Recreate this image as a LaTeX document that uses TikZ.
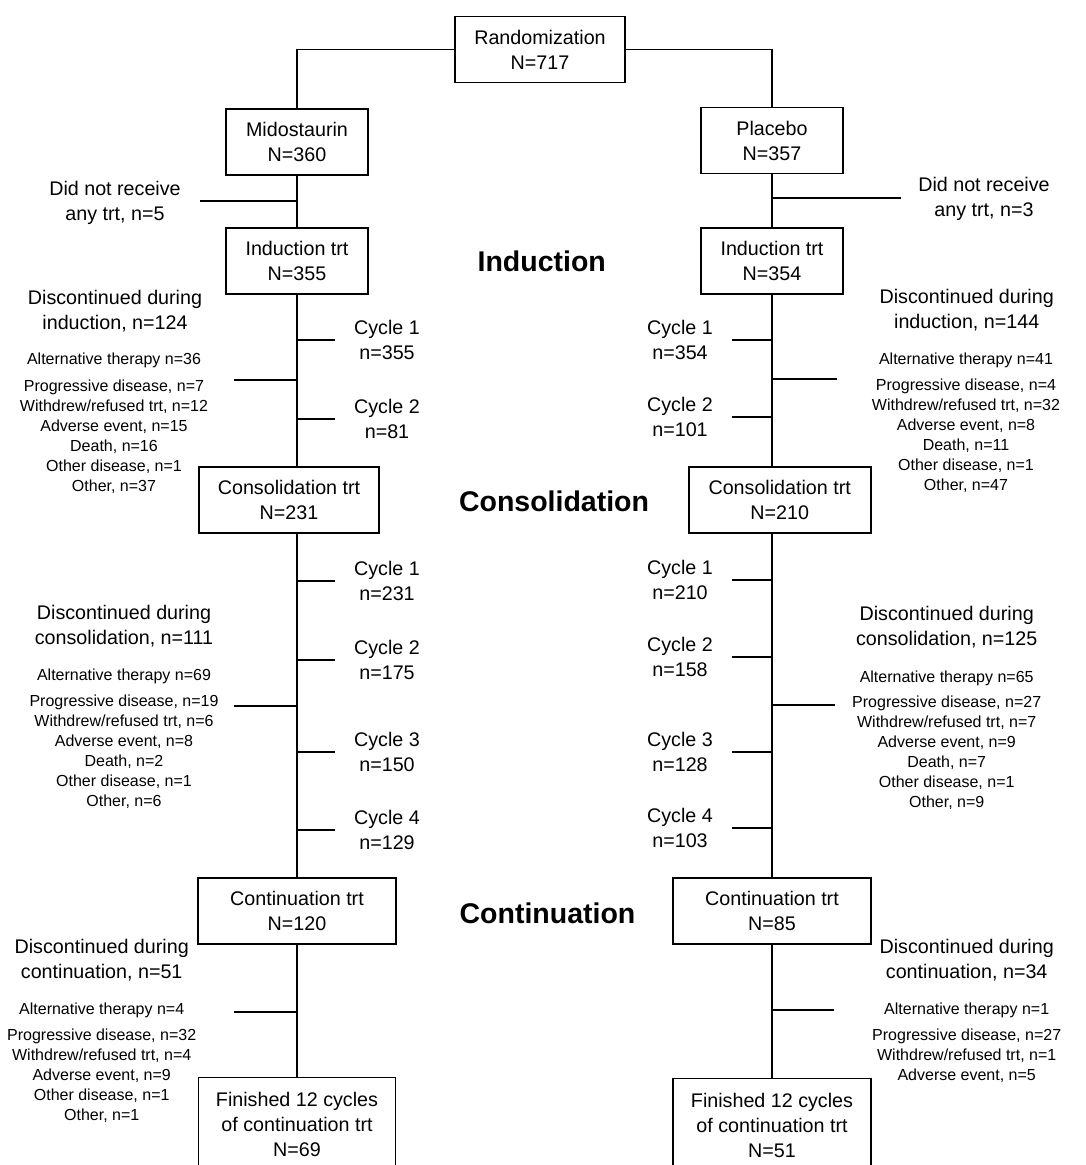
\documentclass[tikz,border=0pt]{standalone}
\usepackage{fontspec}
\setmainfont{Liberation Sans}
\begin{document}
\begin{tikzpicture}[
        x=1pt, y=-1pt,
        flow/.style={line width=1.8pt},
        stagebox/.style={draw, line width=1.8pt, align=center, inner sep=0pt,
          minimum width=142pt, minimum height=66pt,
          font=\fontsize{19.7}{25}\selectfont},
        cyclelbl/.style={align=center, inner sep=0pt, font=\fontsize{19.7}{25}\selectfont},
        headlbl/.style={align=center, inner sep=0pt, font=\fontsize{19.7}{25}\selectfont},
        reasonlbl/.style={anchor=base, inner sep=0pt, font=\fontsize{16}{20}\selectfont},
        phaselbl/.style={inner sep=0pt, font=\fontsize{28.5}{34}\selectfont\bfseries}
      ]
      \useasboundingbox (0,0) rectangle (1085,1165);
      \clip (0,0) rectangle (1085,1165);

      % boxes
      \node[stagebox, minimum width=170pt] (rand) at (540,49.5) {Randomization\\N=717};
      \node[stagebox] (mido) at (297,142) {Midostaurin\\N=360};
      \node[stagebox] (plac) at (772,140.5) {Placebo\\N=357};
      \node[stagebox] (indL) at (297,261.3) {Induction trt\\N=355};
      \node[stagebox] (indR) at (772,261.3) {Induction trt\\N=354};
      \node[stagebox, minimum width=180pt] (conL) at (289,500.3) {Consolidation trt\\N=231};
      \node[stagebox, minimum width=182pt] (conR) at (779.7,500.3) {Consolidation trt\\N=210};
      \node[stagebox, minimum width=198pt] (cntL) at (297,911.3) {Continuation trt\\N=120};
      \node[stagebox, minimum width=198pt] (cntR) at (772,911.3) {Continuation trt\\N=85};
      \node[stagebox, minimum width=197pt, minimum height=94pt] (finL) at (297,1124.5)
        {Finished 12 cycles\\of continuation trt\\N=69};
      \node[stagebox, minimum width=198pt, minimum height=94pt] (finR) at (772,1125.5)
        {Finished 12 cycles\\of continuation trt\\N=51};

      \node[phaselbl] (phInd) at (541.7,261.7) {Induction};
      \node[phaselbl] (phCon) at (554,501.7) {Consolidation};
      \node[phaselbl] (phCnt) at (547.5,913.3) {Continuation};

      % trunks
      \draw[flow] (rand.west) -| (mido.north);
      \draw[flow] (rand.east) -| (plac.north);
      \draw[flow] (mido.south) -- (indL.north);
      \draw[flow] (plac.south) -- (indR.north);
      \draw[flow] (indL.south) -- (indL.south |- conL.north);
      \draw[flow] (indR.south) -- (indR.south |- conR.north);
      \draw[flow] (conL.south -| cntL.north) -- (cntL.north);
      \draw[flow] (conR.south -| cntR.north) -- (cntR.north);
      \draw[flow] (cntL.south) -- (finL.north);
      \draw[flow] (cntR.south) -- (finR.north);

      % no treatment
      \coordinate (noL) at (200,201);
      \draw[flow] (noL) -- (noL -| mido.south);
      \node[headlbl] (hdNoL) at (115,203) {Did not receive\\any trt, n=5};
      \coordinate (noR) at (901,198);
      \draw[flow] (noR -| plac.south) -- (noR);
      \node[headlbl] (hdNoR) at (984,198.5) {Did not receive\\any trt, n=3};

      % induction
      \foreach \k/\val/\y in {1/355/340, 2/81/419} {
        \coordinate (ciL\k) at (335,\y);
        \draw[flow] (ciL\k -| indL.south) -- (ciL\k);
        \node[cyclelbl] (tciL\k) at (387,\y) {Cycle \k\\n=\val};
      }
      \foreach \k/\val/\y in {1/354/340, 2/101/417.3} {
        \coordinate (ciR\k) at (732.3,\y);
        \draw[flow] (ciR\k) -- (ciR\k -| indR.south);
        \node[cyclelbl] (tciR\k) at (680,\y) {Cycle \k\\n=\val};
      }
      \coordinate (dIL) at (234,380);
      \draw[flow] (dIL) -- (dIL -| indL.south);
      \node[headlbl] (hdIL) at (115,310.7) {Discontinued during\\induction, n=124};
      \foreach \txt/\y [count=\k] in {%
        {Alternative therapy n=36}/364,
        {Progressive disease, n=7}/391,
        {Withdrew/refused trt, n=12}/411,
        {Adverse event, n=15}/431,
        {Death, n=16}/451,
        {Other disease, n=1}/471,
        {Other, n=37}/491%
      }{
        \node[reasonlbl] (rIL\k) at (114,\y) {\txt};
      }
      \coordinate (dIR) at (837,379);
      \draw[flow] (dIR -| indR.south) -- (dIR);
      \node[headlbl] (hdIR) at (966.7,310.3) {Discontinued during\\induction, n=144};
      \foreach \txt/\y [count=\k] in {%
        {Alternative therapy n=41}/364,
        {Progressive disease, n=4}/390,
        {Withdrew/refused trt, n=32}/410,
        {Adverse event, n=8}/430,
        {Death, n=11}/450,
        {Other disease, n=1}/470,
        {Other, n=47}/490%
      }{
        \node[reasonlbl] (rIR\k) at (966,\y) {\txt};
      }

      % consolidation
      \foreach \k/\val/\y in {1/231/581, 2/175/660, 3/150/751.7, 4/129/830} {
        \coordinate (ccL\k) at (335,\y);
        \draw[flow] (ccL\k -| indL.south) -- (ccL\k);
        \node[cyclelbl] (tccL\k) at (387,\y) {Cycle \k\\n=\val};
      }
      \foreach \k/\val/\y in {1/210/580.3, 2/158/656.7, 3/128/751.7, 4/103/828.3} {
        \coordinate (ccR\k) at (732.3,\y);
        \draw[flow] (ccR\k) -- (ccR\k -| indR.south);
        \node[cyclelbl] (tccR\k) at (680,\y) {Cycle \k\\n=\val};
      }
      \coordinate (dCL) at (234,705.7);
      \draw[flow] (dCL) -- (dCL -| indL.south);
      \node[headlbl] (hdCL) at (124,626.3) {Discontinued during\\consolidation, n=111};
      \foreach \txt/\y [count=\k] in {%
        {Alternative therapy n=69}/680,
        {Progressive disease, n=19}/706,
        {Withdrew/refused trt, n=6}/726,
        {Adverse event, n=8}/746,
        {Death, n=2}/766,
        {Other disease, n=1}/786,
        {Other, n=6}/806%
      }{
        \node[reasonlbl] (rCL\k) at (124,\y) {\txt};
      }
      \coordinate (dCR) at (835,705.3);
      \draw[flow] (dCR -| indR.south) -- (dCR);
      \node[headlbl] (hdCR) at (946.7,627.3) {Discontinued during\\consolidation, n=125};
      \foreach \txt/\y [count=\k] in {%
        {Alternative therapy n=65}/682,
        {Progressive disease, n=27}/707,
        {Withdrew/refused trt, n=7}/727,
        {Adverse event, n=9}/747,
        {Death, n=7}/767,
        {Other disease, n=1}/787,
        {Other, n=9}/807%
      }{
        \node[reasonlbl] (rCR\k) at (946.7,\y) {\txt};
      }

      % continuation
      \coordinate (dNL) at (234,1011.7);
      \draw[flow] (dNL) -- (dNL -| cntL.south);
      \node[headlbl] (hdNL) at (101.7,960.2) {Discontinued during\\continuation, n=51};
      \foreach \txt/\y [count=\k] in {%
        {Alternative therapy n=4}/1014,
        {Progressive disease, n=32}/1040,
        {Withdrew/refused trt, n=4}/1060,
        {Adverse event, n=9}/1080,
        {Other disease, n=1}/1100,
        {Other, n=1}/1120%
      }{
        \node[reasonlbl] (rNL\k) at (101.7,\y) {\txt};
      }
      \coordinate (dNR) at (834,1010);
      \draw[flow] (dNR -| cntR.south) -- (dNR);
      \node[headlbl] (hdNR) at (966.7,960.5) {Discontinued during\\continuation, n=34};
      \foreach \txt/\y [count=\k] in {%
        {Alternative therapy n=1}/1014,
        {Progressive disease, n=27}/1040,
        {Withdrew/refused trt, n=1}/1060,
        {Adverse event, n=5}/1080%
      }{
        \node[reasonlbl] (rNR\k) at (966.7,\y) {\txt};
      }
    \end{tikzpicture}
\end{document}
